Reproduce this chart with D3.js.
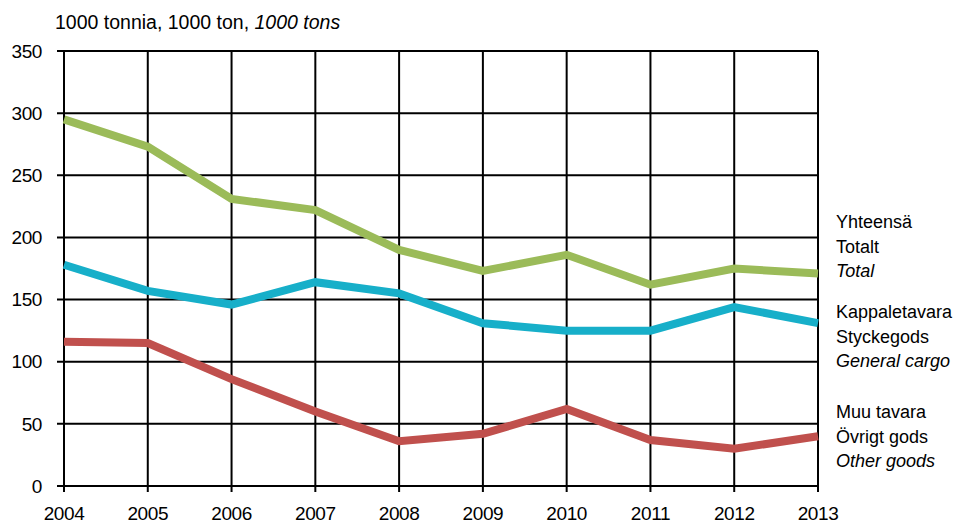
<!DOCTYPE html>
<html>
<head>
<meta charset="utf-8">
<script src="https://cdn.jsdelivr.net/npm/d3@7"></script>
<style>
  body { margin: 0; background: #fff; }
  text { font-family: "Liberation Sans", Arial, sans-serif; fill: #000; }
</style>
</head>
<body>
<div id="chart"></div>
<script>
// data
var years = [2004, 2005, 2006, 2007, 2008, 2009, 2010, 2011, 2012, 2013];
var total = [295, 273, 231, 222, 190, 173, 186, 162, 175, 171];
var generalCargo = [178, 157, 146, 164, 155, 131, 125, 125, 144, 131];
var otherGoods = [116, 115, 86, 60, 36, 42, 62, 37, 30, 40];
var yTicks = [0, 50, 100, 150, 200, 250, 300, 350];
var seriesNames = [
    ["Yhteensä", "Totalt", "Total"],
    ["Kappaletavara", "Styckegods", "General cargo"],
    ["Muu tavara", "Övrigt gods", "Other goods"]
];
var seriesColors = ["#9bbb59", "#17afc9", "#c0504d"];

var margin = { top: 51, right: 137, bottom: 40, left: 64 },
    width = 955 - margin.left - margin.right,
    height = 526 - margin.top - margin.bottom;

var svg = d3.select("#chart").append("svg")
    .attr("width", 955)
    .attr("height", 526);

var g = svg.append("g")
    .attr("transform", "translate(" + margin.left + "," + margin.top + ")");

var x = d3.scaleLinear()
    .domain([2004, 2013])
    .range([0, width]);

var y = d3.scaleLinear()
    .domain([0, 350])
    .range([height, 0]);

// grid
g.append("g").selectAll("line")
    .data(yTicks)
    .enter()
    .append("line")
    .attr("x1", -7)
    .attr("x2", width)
    .attr("y1", function (d) { return y(d); })
    .attr("y2", function (d) { return y(d); })
    .attr("stroke", "#000")
    .attr("stroke-width", 2);

g.append("g").selectAll("line")
    .data(years)
    .enter()
    .append("line")
    .attr("x1", function (d) { return x(d); })
    .attr("x2", function (d) { return x(d); })
    .attr("y1", 0)
    .attr("y2", height + 6)
    .attr("stroke", "#000")
    .attr("stroke-width", 2);

// axis labels
g.append("g").selectAll("text")
    .data(yTicks)
    .enter()
    .append("text")
    .attr("x", -22)
    .attr("y", function (d) { return y(d); })
    .attr("dy", "0.35em")
    .attr("text-anchor", "end")
    .attr("font-size", 19)
    .attr("letter-spacing", -0.4)
    .text(function (d) { return d; });

g.append("g").selectAll("text")
    .data(years)
    .enter()
    .append("text")
    .attr("x", function (d) { return x(d); })
    .attr("y", height + 34)
    .attr("text-anchor", "middle")
    .attr("font-size", 19)
    .attr("letter-spacing", -0.4)
    .text(function (d) { return d; });

// lines
var line = d3.line()
    .x(function (d, i) { return x(years[i]); })
    .y(function (d) { return y(d); });

[total, generalCargo, otherGoods].forEach(function (s, k) {
    g.append("path")
        .datum(s)
        .attr("d", line)
        .attr("fill", "none")
        .attr("stroke", seriesColors[k])
        .attr("stroke-width", 8)
        .attr("stroke-linejoin", "miter");
});

// legend labels at the right
var legendTop = [222, 312, 412];
seriesNames.forEach(function (names, k) {
    names.forEach(function (t, j) {
        svg.append("text")
            .attr("x", 836)
            .attr("y", legendTop[k] + j * 24.5)
            .attr("dy", "0.35em")
            .attr("font-size", 18)
            .attr("font-style", j == 2 ? "italic" : null)
            .text(t);
    });
});

// title
var title = svg.append("text")
    .attr("x", 55)
    .attr("y", 29)
    .attr("font-size", 19.5);
title.append("tspan").text("1000 tonnia, 1000 ton, ");
title.append("tspan").attr("font-style", "italic").text("1000 tons");
</script>
</body>
</html>
